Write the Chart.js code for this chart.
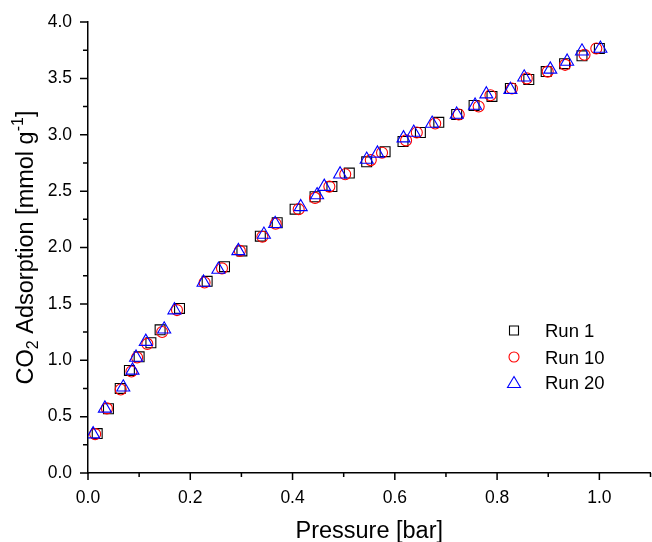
<!DOCTYPE html>
<html><head><meta charset="utf-8">
<script src="https://cdn.jsdelivr.net/npm/chart.js@4/dist/chart.umd.min.js"></script>
<style>html,body{margin:0;padding:0;background:#fff}</style>
</head><body>
<canvas id="c" width="652" height="542"></canvas>
<script>
// ---- data ----
const seriesNames = ['Run 1', 'Run 10', 'Run 20'];
const run1Pressure = [0.018,0.040,0.063,0.081,0.100,0.123,0.141,0.179,0.233,0.267,0.301,0.337,0.370,0.405,0.444,0.477,0.511,0.545,0.581,0.616,0.650,0.686,0.721,0.755,0.790,0.826,0.862,0.896,0.932,0.966,1.000];
const run1Uptake   = [0.35,0.57,0.75,0.91,1.03,1.155,1.27,1.46,1.70,1.83,1.97,2.10,2.22,2.34,2.45,2.54,2.66,2.76,2.85,2.94,3.02,3.11,3.18,3.26,3.34,3.41,3.49,3.56,3.63,3.70,3.765];
const run10Pressure = [0.014,0.037,0.064,0.085,0.096,0.116,0.145,0.174,0.228,0.262,0.297,0.341,0.367,0.412,0.444,0.472,0.503,0.553,0.575,0.622,0.643,0.679,0.725,0.764,0.787,0.829,0.858,0.899,0.933,0.971,0.994];
const run10Uptake   = [0.345,0.573,0.74,0.90,1.025,1.145,1.25,1.445,1.69,1.815,1.97,2.095,2.21,2.34,2.44,2.54,2.65,2.775,2.84,2.95,3.02,3.10,3.18,3.25,3.35,3.41,3.50,3.56,3.62,3.71,3.765];
const run20Pressure = [0.010,0.033,0.069,0.087,0.094,0.113,0.149,0.169,0.226,0.255,0.294,0.344,0.366,0.416,0.448,0.462,0.493,0.545,0.566,0.617,0.637,0.673,0.721,0.757,0.779,0.826,0.853,0.904,0.937,0.966,1.002];
const run20Uptake   = [0.345,0.573,0.76,0.91,1.025,1.165,1.275,1.445,1.69,1.805,1.97,2.115,2.21,2.36,2.465,2.54,2.65,2.78,2.835,2.97,3.02,3.10,3.18,3.26,3.36,3.40,3.51,3.58,3.65,3.74,3.765];
const xMajorTicks = [0, 0.2, 0.4, 0.6, 0.8, 1.0];
const xMinorTicks = [0.1, 0.3, 0.5, 0.7, 0.9, 1.1];
const yMajorTicks = [0, 0.5, 1.0, 1.5, 2.0, 2.5, 3.0, 3.5, 4.0];
const yMinorTicks = [0.25, 0.75, 1.25, 1.75, 2.25, 2.75, 3.25, 3.75];
const xTitle = 'Pressure [bar]';

const FONT = '"Liberation Sans", Arial, Helvetica, sans-serif';
const pts = (xs, ys) => xs.map((x, i) => ({x, y: ys[i]}));

const styles = [
  {pointStyle: 'rect', pointRadius: 7, color: '#000000', order: 2},
  {pointStyle: 'circle', pointRadius: 5.5, color: '#ff0000', order: 1},
  {pointStyle: 'triangle', pointRadius: 7.5, color: '#0000ff', order: 0}
];
const seriesData = [pts(run1Pressure, run1Uptake), pts(run10Pressure, run10Uptake), pts(run20Pressure, run20Uptake)];

const datasets = seriesNames.map((name, i) => ({
  label: name,
  data: seriesData[i],
  pointStyle: styles[i].pointStyle,
  pointRadius: styles[i].pointRadius,
  pointHoverRadius: styles[i].pointRadius,
  borderColor: styles[i].color,
  backgroundColor: 'rgba(0,0,0,0)',
  pointBorderWidth: 1.1,
  borderWidth: 1.1,
  showLine: false,
  order: styles[i].order
}));

const tickMarks = {
  id: 'tickMarks',
  afterDraw(chart) {
    const ctx = chart.ctx, xs = chart.scales.x, ys = chart.scales.y, a = chart.chartArea;
    ctx.save();
    ctx.strokeStyle = '#000';
    ctx.lineWidth = 1.5;
    ctx.beginPath();
    xMajorTicks.forEach(v => { const p = xs.getPixelForValue(v); ctx.moveTo(p, a.bottom); ctx.lineTo(p, a.bottom + 7); });
    xMinorTicks.forEach(v => { const p = xs.getPixelForValue(v); ctx.moveTo(p, a.bottom); ctx.lineTo(p, a.bottom + 4); });
    yMajorTicks.forEach(v => { const p = ys.getPixelForValue(v); ctx.moveTo(a.left, p); ctx.lineTo(a.left - 8, p); });
    yMinorTicks.forEach(v => { const p = ys.getPixelForValue(v); ctx.moveTo(a.left, p); ctx.lineTo(a.left - 5, p); });
    ctx.stroke();
    ctx.restore();
  }
};

const titles = {
  id: 'titles',
  afterDraw(chart) {
    const ctx = chart.ctx, a = chart.chartArea;
    ctx.save();
    ctx.fillStyle = '#000';
    // x title
    ctx.font = '23.5px ' + FONT;
    ctx.textAlign = 'center';
    ctx.textBaseline = 'alphabetic';
    ctx.fillText(xTitle, (a.left + a.right) / 2, 538);
    // y title with sub/superscript
    const big = '23.5px ' + FONT, small = '16px ' + FONT;
    const parts = [
      {t: 'CO', f: big, dy: 0},
      {t: '2', f: small, dy: 5},
      {t: ' Adsorption [mmol g', f: big, dy: 0},
      {t: '-1', f: small, dy: -10},
      {t: ']', f: big, dy: 0}
    ];
    let total = 0;
    parts.forEach(p => { ctx.font = p.f; p.w = ctx.measureText(p.t).width; total += p.w; });
    ctx.translate(32.5, (a.top + a.bottom) / 2);
    ctx.rotate(-Math.PI / 2);
    ctx.textAlign = 'left';
    let x = -total / 2;
    parts.forEach(p => { ctx.font = p.f; ctx.fillText(p.t, x, p.dy); x += p.w; });
    ctx.restore();
  }
};

const legendBox = {
  id: 'legendBox',
  afterDraw(chart) {
    const ctx = chart.ctx;
    const rows = [337, 363.5, 389];
    ctx.save();
    ctx.font = '18.5px ' + FONT;
    ctx.textAlign = 'left';
    ctx.textBaseline = 'alphabetic';
    seriesNames.forEach((name, i) => {
      const cy = rows[i] - 6.5, cx = 514;
      ctx.strokeStyle = styles[i].color;
      ctx.lineWidth = 1.1;
      ctx.beginPath();
      if (i === 0) ctx.rect(cx - 4.5, cy - 4.5, 9, 9);
      else if (i === 1) ctx.arc(cx, cy, 5, 0, Math.PI * 2);
      else { ctx.moveTo(cx, cy - 6); ctx.lineTo(cx + 6.5, cy + 5); ctx.lineTo(cx - 6.5, cy + 5); ctx.closePath(); }
      ctx.stroke();
      ctx.fillStyle = '#000';
      ctx.fillText(name, 545, rows[i]);
    });
    ctx.restore();
  }
};

new Chart(document.getElementById('c'), {
  type: 'scatter',
  data: {datasets},
  options: {
    responsive: false,
    animation: false,
    devicePixelRatio: 1,
    layout: {autoPadding: false, padding: {top: 22, right: 1.5, bottom: 0, left: 0}},
    plugins: {legend: {display: false}, tooltip: {enabled: false}, title: {display: false}},
    events: [],
    scales: {
      x: {
        type: 'linear', min: 0, max: 1.1,
        afterBuildTicks(s) { s.ticks = xMajorTicks.map(v => ({value: v})); },
        afterFit(s) { s.height = 69; s.paddingLeft = 0; s.paddingRight = 0; },
        ticks: {color: '#000', font: {family: FONT, size: 17.5}, padding: 15, maxRotation: 0, autoSkip: false,
                callback: v => Number(v).toFixed(1)},
        grid: {display: false, drawTicks: false},
        border: {display: true, color: '#000', width: 1.5},
        title: {display: false}
      },
      y: {
        type: 'linear', min: 0, max: 4.0,
        afterBuildTicks(s) { s.ticks = yMajorTicks.map(v => ({value: v})); },
        afterFit(s) { s.width = 88; s.paddingTop = 0; s.paddingBottom = 0; },
        ticks: {color: '#000', font: {family: FONT, size: 17.5}, padding: 16, autoSkip: false,
                callback: v => Number(v).toFixed(1)},
        grid: {display: false, drawTicks: false},
        border: {display: true, color: '#000', width: 1.5},
        title: {display: false}
      }
    }
  },
  plugins: [tickMarks, titles, legendBox]
});
</script>
</body></html>
